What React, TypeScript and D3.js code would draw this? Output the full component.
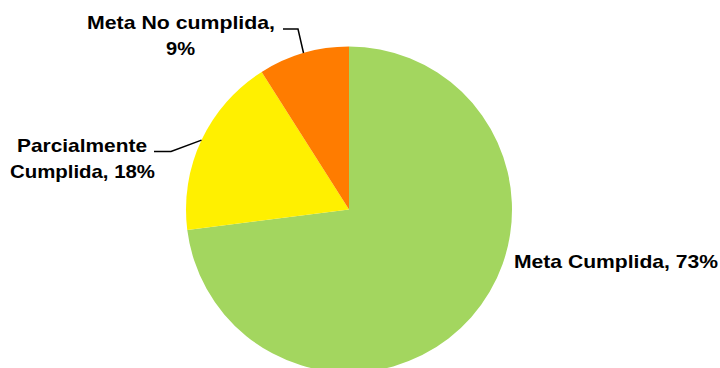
import React from "react";
import * as d3 from "d3";

const categories = ["Meta Cumplida", "Parcialmente Cumplida", "Meta No cumplida"];
const values = [73, 18, 9];
const colors = ["#A3D65F", "#FFF000", "#FF7C00"];

const W = 720;
const H = 368;
const cx = 349;
const cy = 209.5;
const R = 163;

export default function App() {
  const pie = d3
    .pie<number>()
    .sort(null)
    .startAngle(0)
    .endAngle(2 * Math.PI)
    .value((d) => d);
  const arcs = pie(values);
  const arc = d3.arc<d3.PieArcDatum<number>>().innerRadius(0).outerRadius(R);
  const edge = (a: d3.PieArcDatum<number>) => {
    const m = (a.startAngle + a.endAngle) / 2;
    return [cx + R * Math.sin(m), cy - R * Math.cos(m)];
  };
  const pNo = edge(arcs[2]);
  const pPar = edge(arcs[1]);
  const font = { fontFamily: "'Liberation Sans', Arial, sans-serif", fontWeight: 700, fontSize: 19, fill: "#000", lengthAdjust: "spacingAndGlyphs" } as const;
  const total = d3.sum(values);
  const pct = (i: number) => `${Math.round((values[i] / total) * 100)}%`;
  return (
    <svg width={W} height={H} style={{ position: "absolute", left: 0, top: 0, background: "#fff" }}>
      <g transform={`translate(${cx},${cy})`}>
        {arcs.map((a, i) => (
          <path key={i} d={arc(a) || ""} fill={colors[i]} />
        ))}
      </g>
      <path d={`M283,29H298L${pNo[0]},${pNo[1]}`} fill="none" stroke="#000" strokeWidth={1.5} />
      <path d={`M154,151.5H171L${pPar[0]},${pPar[1]}`} fill="none" stroke="#000" strokeWidth={1.5} />
      <text {...font} x={87} y={29} textLength={188}>{`Meta No cumplida,`}</text>
      <text {...font} x={166} y={55} textLength={29}>{pct(2)}</text>
      <text {...font} x={17} y={152} textLength={130}>Parcialmente</text>
      <text {...font} x={10} y={178} textLength={145}>{`Cumplida, ${pct(1)}`}</text>
      <text {...font} x={514} y={268} textLength={204}>{`${categories[0]}, ${pct(0)}`}</text>
    </svg>
  );
}
